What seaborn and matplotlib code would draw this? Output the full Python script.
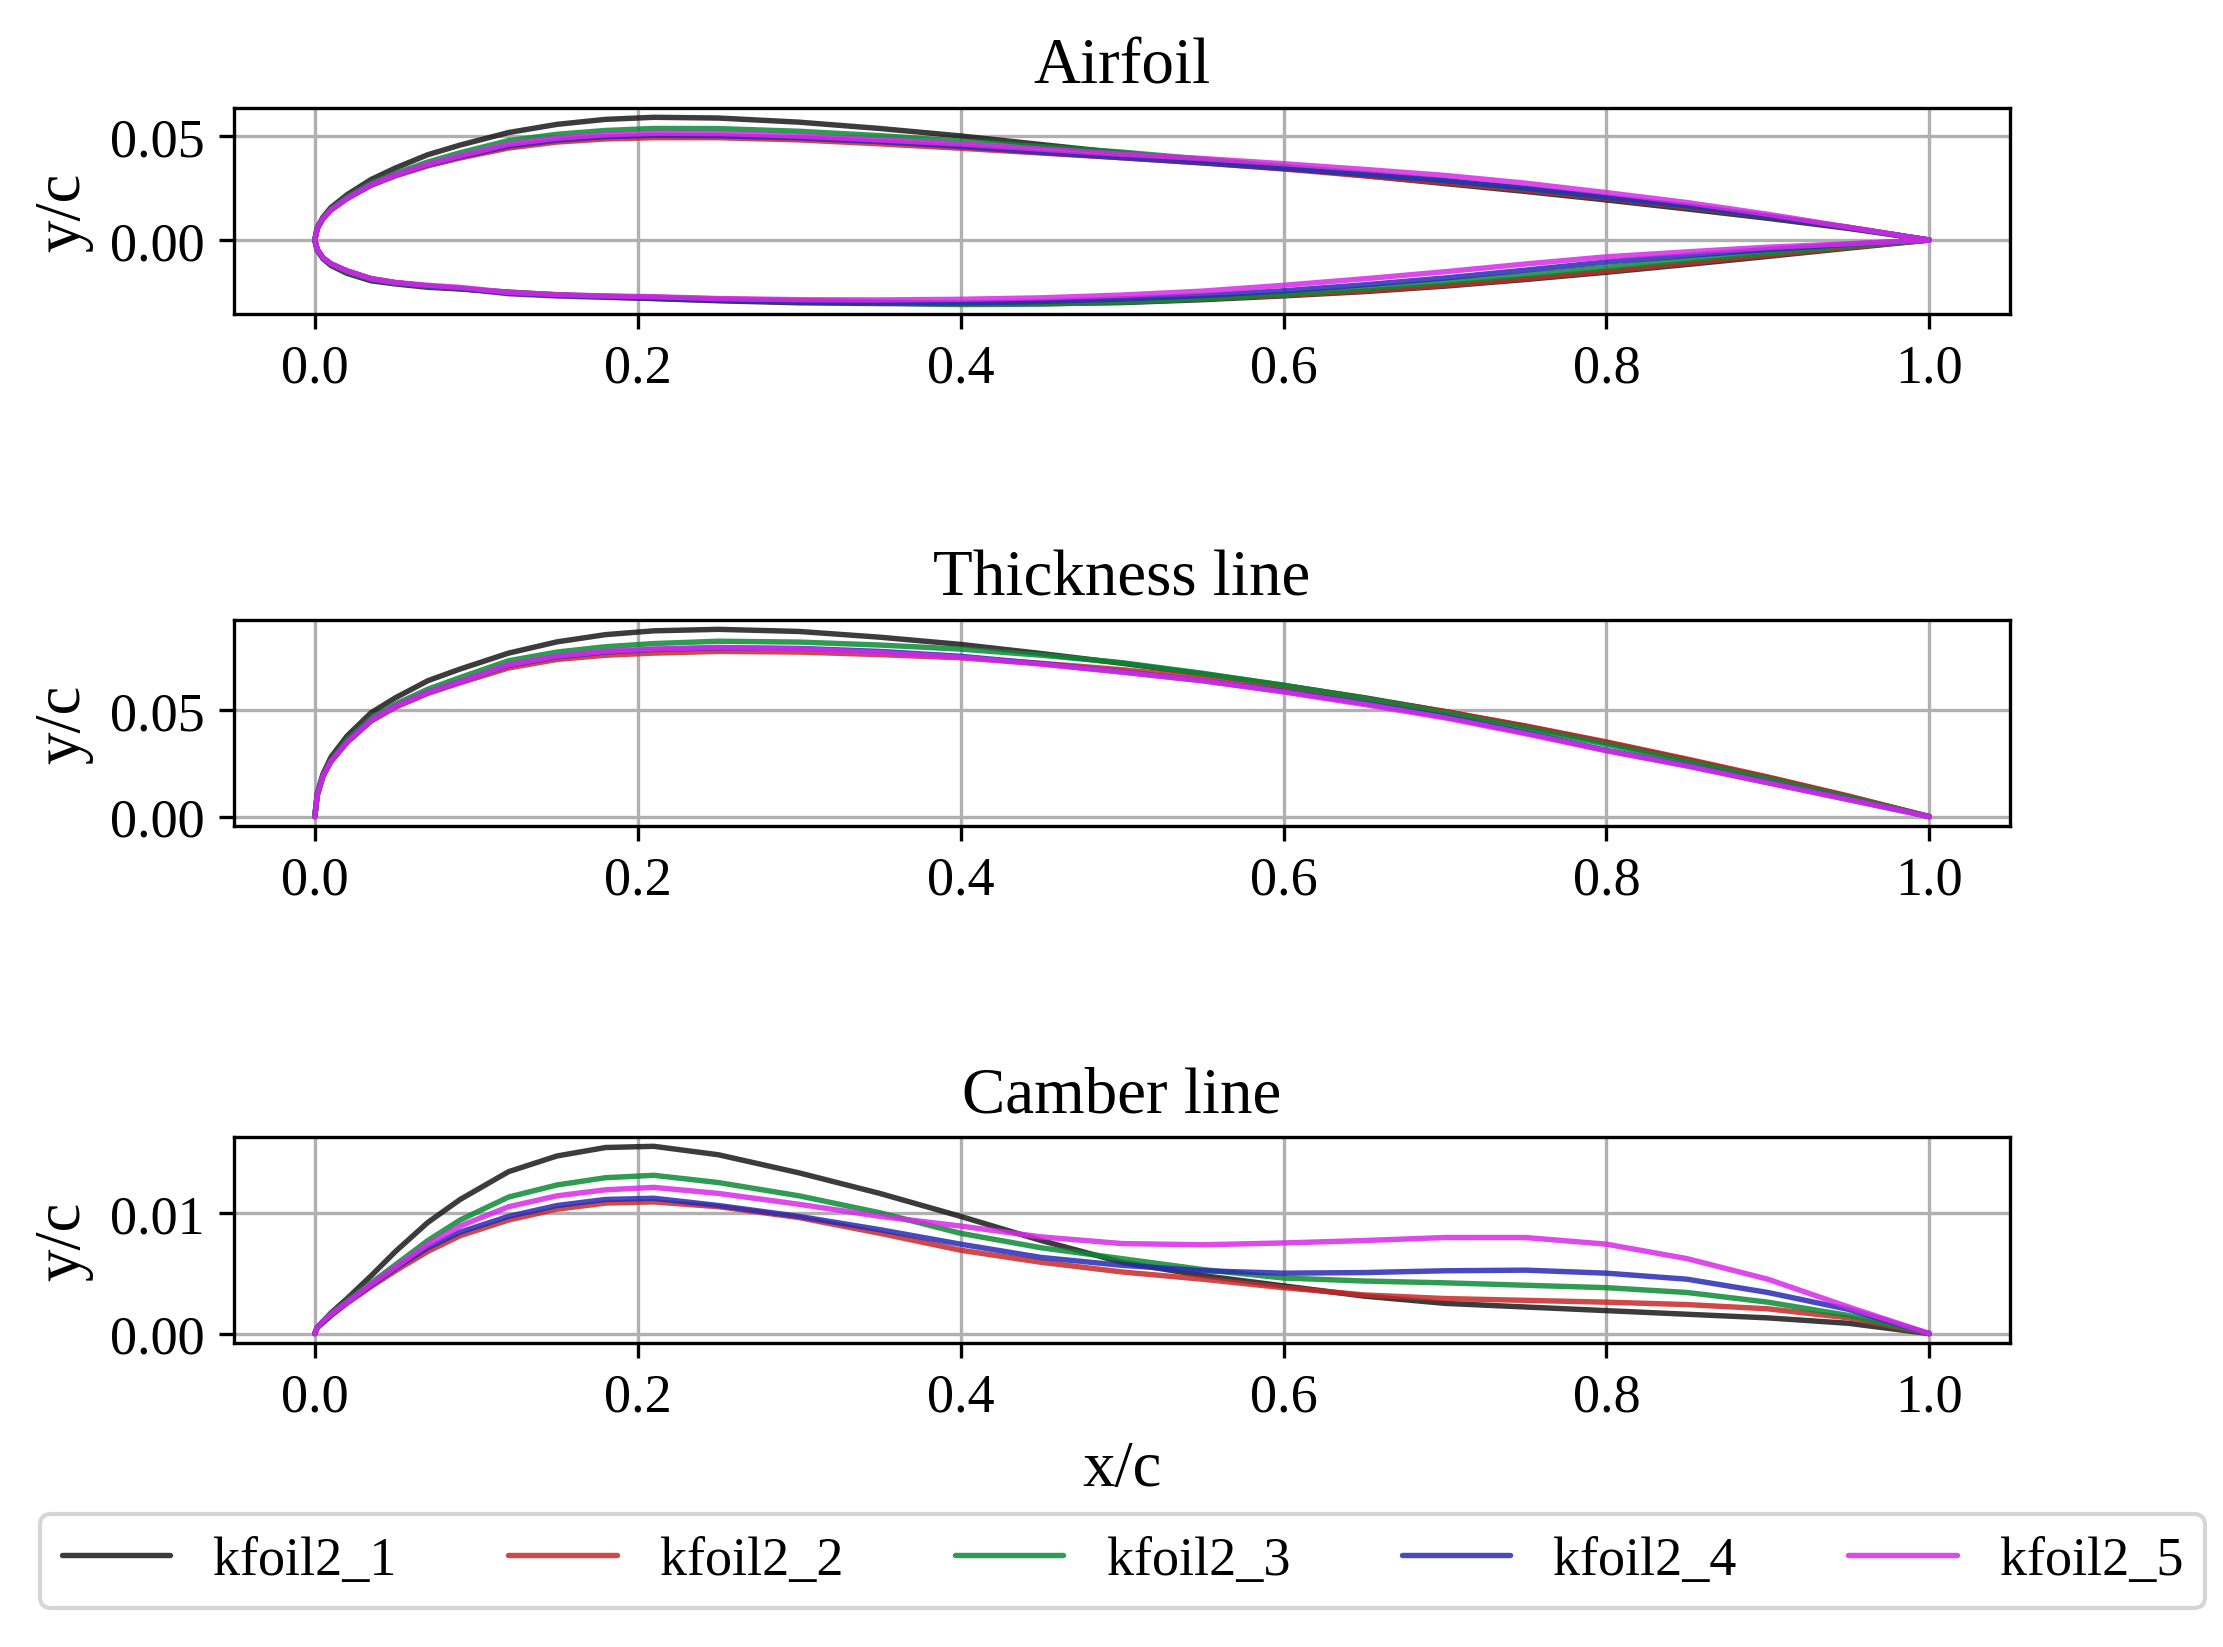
import seaborn as sns
import matplotlib.pyplot as plt
import pandas as pd
import numpy as np

# chord stations
xc = [0, 0.0015, 0.005, 0.01, 0.02, 0.035, 0.05, 0.07, 0.09, 0.12, 0.15, 0.18, 0.21, 0.25,
      0.3, 0.35, 0.4, 0.45, 0.5, 0.55, 0.6, 0.65, 0.7, 0.75, 0.8, 0.85, 0.9, 0.95, 1.0]

foils = ["kfoil2_1", "kfoil2_2", "kfoil2_3", "kfoil2_4", "kfoil2_5"]

# thickness distributions
thick_1 = [0, 0.011, 0.020, 0.028, 0.038, 0.049, 0.056, 0.0640, 0.0695, 0.0770, 0.0823, 0.0857,
           0.0875, 0.0882, 0.0872, 0.0845, 0.0811, 0.0768, 0.0722, 0.0672, 0.0618, 0.0560,
           0.0495, 0.0425, 0.0349, 0.0268, 0.0184, 0.0095, 0]
thick_2 = [0, 0.010, 0.019, 0.026, 0.035, 0.045, 0.0515, 0.0580, 0.0630, 0.0700, 0.0740, 0.0760,
           0.0770, 0.0778, 0.0775, 0.0763, 0.0748, 0.0722, 0.0692, 0.0655, 0.0610, 0.0556,
           0.0495, 0.0427, 0.0352, 0.0271, 0.0187, 0.0097, 0]
thick_3 = [0, 0.010, 0.019, 0.0265, 0.036, 0.0465, 0.053, 0.0600, 0.0655, 0.0734, 0.0775, 0.0800,
           0.0815, 0.0826, 0.0822, 0.0808, 0.0789, 0.0760, 0.0725, 0.0675, 0.0619, 0.0558,
           0.0490, 0.0417, 0.0340, 0.0260, 0.0178, 0.0091, 0]
thick_4 = [0, 0.010, 0.019, 0.026, 0.035, 0.0455, 0.052, 0.0585, 0.0635, 0.0712, 0.0752, 0.0775,
           0.0787, 0.0795, 0.0792, 0.0778, 0.0755, 0.0720, 0.0682, 0.0640, 0.0590, 0.0533,
           0.0470, 0.0395, 0.0312, 0.0240, 0.0160, 0.0080, 0]
thick_5 = [0, 0.010, 0.019, 0.026, 0.035, 0.0455, 0.052, 0.0585, 0.0635, 0.0715, 0.0755, 0.0778,
           0.0789, 0.0797, 0.0790, 0.0772, 0.0750, 0.0718, 0.0680, 0.0640, 0.0587, 0.0528,
           0.0465, 0.0390, 0.0310, 0.0238, 0.0159, 0.0080, 0]

# camber lines
camb_1 = [0, 0.0005, 0.0010, 0.0017, 0.0029, 0.0048, 0.0068, 0.0092, 0.0111, 0.0134, 0.0147,
          0.0154, 0.0155, 0.0148, 0.0133, 0.0116, 0.0097, 0.0077, 0.0059, 0.0048, 0.00395,
          0.0031, 0.0025, 0.0022, 0.0019, 0.0016, 0.0013, 0.00085, 0]
camb_2 = [0, 0.0005, 0.0009, 0.0015, 0.0025, 0.0039, 0.0052, 0.0068, 0.0081, 0.0094, 0.0103,
          0.0108, 0.0109, 0.0105, 0.0096, 0.0083, 0.0069, 0.0059, 0.0051, 0.0045, 0.0038,
          0.0032, 0.0029, 0.00275, 0.0026, 0.0024, 0.00205, 0.0013, 0]
camb_3 = [0, 0.0005, 0.0010, 0.0016, 0.0027, 0.0042, 0.0057, 0.0077, 0.0094, 0.0113, 0.0123,
          0.0129, 0.0131, 0.0125, 0.0114, 0.0100, 0.0083, 0.0071, 0.0062, 0.0053, 0.0046,
          0.00435, 0.0042, 0.0040, 0.0038, 0.0034, 0.0026, 0.0015, 0]
camb_4 = [0, 0.0005, 0.0009, 0.0015, 0.0026, 0.0040, 0.0054, 0.0071, 0.0084, 0.0097, 0.0106,
          0.0111, 0.0112, 0.0106, 0.0097, 0.0086, 0.0074, 0.0063, 0.00565, 0.0052, 0.0050,
          0.00505, 0.0052, 0.00525, 0.0050, 0.0045, 0.0034, 0.0020, 0]
camb_5 = [0, 0.0005, 0.0010, 0.0016, 0.0026, 0.0041, 0.0055, 0.0074, 0.0089, 0.0105, 0.0114,
          0.0119, 0.0121, 0.0116, 0.0107, 0.0097, 0.0089, 0.0080, 0.00745, 0.00735, 0.0075,
          0.0077, 0.00795, 0.00795, 0.0074, 0.0062, 0.0045, 0.0022, 0]

thick = [thick_1, thick_2, thick_3, thick_4, thick_5]
camb = [camb_1, camb_2, camb_3, camb_4, camb_5]
colors = ["#1a1a1a", "#c82828", "#0a8a35", "#2a2ab5", "#d82ae8"]

rows_af, rows_t, rows_c = [], [], []
for name, t, c in zip(foils, thick, camb):
    x = np.array(xc)
    t = np.array(t)
    c = np.array(c)
    # airfoil contour: upper surface TE->LE, then lower surface LE->TE
    xs = np.concatenate([x[::-1], x[1:]])
    ys = np.concatenate([(c + t / 2)[::-1], (c - t / 2)[1:]])
    rows_af.append(pd.DataFrame({"x": xs, "y": ys, "foil": name}))
    rows_t.append(pd.DataFrame({"x": x, "y": t, "foil": name}))
    rows_c.append(pd.DataFrame({"x": x, "y": c, "foil": name}))

df_af = pd.concat(rows_af, ignore_index=True)
df_t = pd.concat(rows_t, ignore_index=True)
df_c = pd.concat(rows_c, ignore_index=True)

sns.set_style("ticks", {"axes.grid": True, "grid.color": "#b0b0b0",
                        "axes.edgecolor": "black", "text.color": "black",
                        "axes.labelcolor": "black", "xtick.color": "black",
                        "ytick.color": "black"})
plt.rcParams["font.family"] = ["Liberation Serif", "DejaVu Serif"]

fig, axes = plt.subplots(3, 1, figsize=(7.41, 5.4933), dpi=300)
pal = dict(zip(foils, colors))

panels = [(df_af, "Airfoil", [0, 0.05]),
          (df_t, "Thickness line", [0, 0.05]),
          (df_c, "Camber line", [0, 0.01])]
bottoms = [0.8089, 0.4982, 0.1845]

for ax, (d, title, yt), b in zip(axes, panels, bottoms):
    sns.lineplot(data=d, x="x", y="y", hue="foil", palette=pal, sort=False,
                 estimator=None, ax=ax, linewidth=1.3, alpha=0.85, legend=True)
    ax.set_position([0.1053, b, 0.7989, 0.125])
    ax.set_title(title, fontsize=15.6, color="black")
    ax.set_ylabel("y/c", fontsize=15.6)
    ax.set_xlabel("")
    ax.set_xticks([0, 0.2, 0.4, 0.6, 0.8, 1.0])
    ax.set_yticks(yt)
    ax.yaxis.set_major_formatter(plt.FormatStrFormatter("%.2f"))
    ax.xaxis.set_major_formatter(plt.FormatStrFormatter("%.1f"))
    ax.tick_params(labelsize=13, length=3.5, width=0.8, color="black", labelcolor="black")
    ax.grid(True, color="#b0b0b0", linewidth=0.8)
    for s in ax.spines.values():
        s.set_color("black")
        s.set_linewidth(0.8)

axes[2].set_xlabel("x/c", fontsize=15.6)

h, l = axes[2].get_legend_handles_labels()
for ax in axes:
    ax.get_legend().remove()
leg = fig.legend(h, l, loc="lower left", ncol=5, mode="expand", fontsize=13,
                 bbox_to_anchor=(0.018, 0.0237, 0.974, 0.0558), borderaxespad=0,
                 fancybox=True, edgecolor="#cccccc")
for txt in leg.get_texts():
    txt.set_color("black")

fig.savefig("out.png", dpi=300)
